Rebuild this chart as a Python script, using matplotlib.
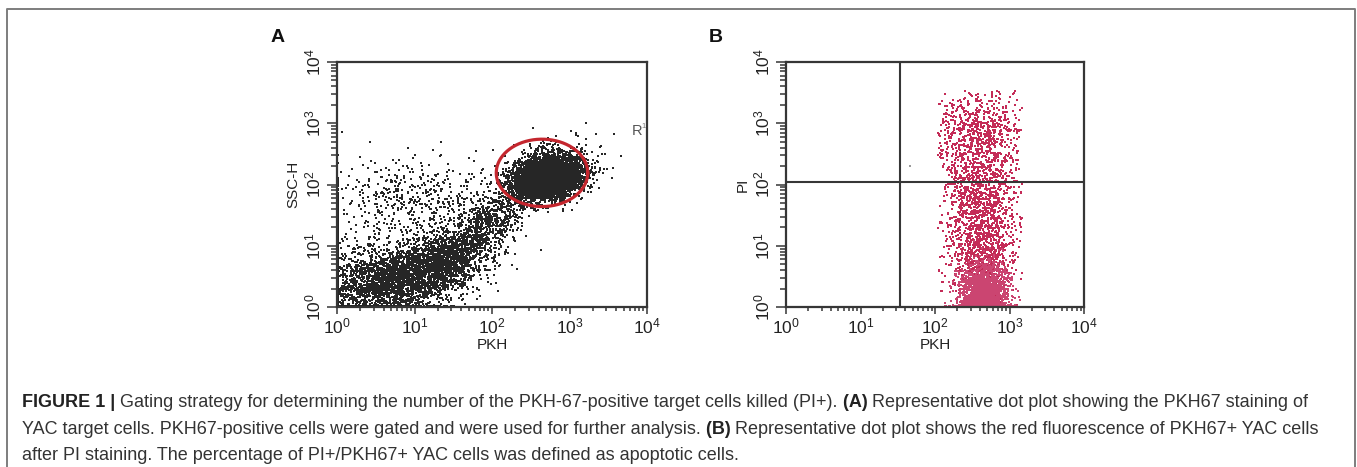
import matplotlib
matplotlib.use("Agg")
import matplotlib.pyplot as plt
from matplotlib.lines import Line2D
from matplotlib.ticker import LogLocator, LogFormatterSciNotation, NullFormatter
import numpy as np

plt.rcParams["font.family"] = ["Liberation Sans", "DejaVu Sans"]
plt.rcParams["mathtext.default"] = "regular"
plt.rcParams["ytick.alignment"] = "center"

W, H = 1357, 467

# populations in log10 decades: centre, spread, correlation, number of events
a_cx = [2.72, 2.70, 0.60, 1.30, 1.90, 1.00, -0.20]
a_cy = [2.10, 2.20, 0.40, 0.70, 1.30, 1.80, 1.00]
a_sx = [0.22, 0.28, 0.40, 0.35, 0.25, 0.55, 0.15]
a_sy = [0.17, 0.24, 0.30, 0.32, 0.30, 0.35, 0.60]
a_rho = [0.20, 0.45, 0.20, 0.35, 0.60, 0.20, 0.00]
a_n = [4500, 700, 2000, 1800, 700, 450, 200]

b_cx = [2.66, 2.62, 2.60, 2.58]
b_cy = [0.10, 0.90, 1.90, 2.90]
b_sx = [0.16, 0.22, 0.27, 0.33]
b_sy = [0.30, 0.40, 0.50, 0.35]
b_rho = [0.0, 0.0, 0.0, 0.0]
b_n = [2600, 900, 1000, 700]
b_colors = ["#cb4571", "#c42b57", "#c42b57", "#c42b57"]
b_gate_x = (2.04, 3.17)   # PKH range carried over from R1
b_top = 3.55

# R1 gate (log10 centre and half-axes)
gate_c = (2.645, 2.19)
gate_r = (0.59, 0.55)

# quadrant markers of panel B
quad_x = 34
quad_y = 110
stray_x, stray_y = [46], [200]

decades = [1, 10, 100, 1000, 10000]

caption = [
    [("FIGURE 1 |", "bold"),
     (" Gating strategy for determining the number of the PKH-67-positive target cells killed (PI+).", "normal"),
     (" (A)", "bold"),
     (" Representative dot plot showing the PKH67 staining of", "normal")],
    [("YAC target cells. PKH67-positive cells were gated and were used for further analysis.", "normal"),
     (" (B)", "bold"),
     (" Representative dot plot shows the red fluorescence of PKH67+ YAC cells", "normal")],
    [("after PI staining. The percentage of PI+/PKH67+ YAC cells was defined as apoptotic cells.", "normal")],
]

rng = np.random.default_rng(7)


def events(cx, cy, sx, sy, rho, n, xr=(0.0, 4.0), ytop=4.0):
    pops = []
    for i in range(len(cx)):
        cov = [[sx[i] ** 2, rho[i] * sx[i] * sy[i]], [rho[i] * sx[i] * sy[i], sy[i] ** 2]]
        p = rng.multivariate_normal([cx[i], cy[i]], cov, size=n[i])
        keep = (p[:, 0] <= xr[1]) & (p[:, 1] <= ytop)
        if xr[0] > 0:
            keep &= p[:, 0] >= xr[0]
        p = p[keep]
        x = np.clip(p[:, 0], 0.012, 3.99)
        y = np.clip(p[:, 1], 0.015, 3.99)
        pops.append((10 ** x, 10 ** y))
    return pops


def style(ax):
    ax.set_xscale("log")
    ax.set_yscale("log")
    ax.set_xlim(1, 1e4)
    ax.set_ylim(1, 1e4)
    for s in ax.spines.values():
        s.set_color("#363636")
        s.set_linewidth(1.6)
    for axis in (ax.xaxis, ax.yaxis):
        axis.set_major_locator(LogLocator(base=10, numticks=10))
        axis.set_minor_locator(LogLocator(base=10, subs=np.arange(2, 10), numticks=10))
        axis.set_major_formatter(LogFormatterSciNotation())
        axis.set_minor_formatter(NullFormatter())
    ax.set_xticks(decades)
    ax.set_yticks(decades)
    ax.tick_params(which="both", direction="out", color="#363636", width=1.1, labelcolor="#222222",
                   labelsize=12.5)
    ax.tick_params(axis="x", which="major", length=5, pad=2)
    ax.tick_params(axis="x", which="minor", length=3)
    ax.tick_params(axis="y", which="major", length=7, pad=3, labelrotation=90)
    ax.tick_params(axis="y", which="minor", length=4)


fig = plt.figure(figsize=(W / 100, H / 100), dpi=100)

# outer frame
frame = dict(color="#7d7d7d", lw=1.4, transform=fig.transFigure)
fig.add_artist(Line2D([7 / W, 7 / W, 1355 / W, 1355 / W], [0, 1 - 9 / H, 1 - 9 / H, 0], **frame))

# panel A
ax1 = fig.add_axes([337 / W, 1 - 307 / H, 310 / W, 245 / H])
style(ax1)
for px, py in events(a_cx, a_cy, a_sx, a_sy, a_rho, a_n):
    ax1.scatter(px, py, s=2.8, marker="s", color="#262626", linewidths=0, rasterized=True)
t = np.linspace(0, 2 * np.pi, 300)
ax1.plot(10 ** (gate_c[0] + gate_r[0] * np.cos(t)), 10 ** (gate_c[1] + gate_r[1] * np.sin(t)),
         color="#c4262e", lw=2.3)
ax1.set_xlabel("PKH", fontsize=11, color="#222222", labelpad=1)
ax1.set_ylabel("SSC-H", fontsize=11, color="#222222", labelpad=2)
fig.text(632 / W, 1 - 135 / H, "R", fontsize=10.5, color="#555555")
fig.text(641 / W, 1 - 128 / H, "1", fontsize=5.5, color="#777777")

# panel B
ax2 = fig.add_axes([786 / W, 1 - 307 / H, 298 / W, 245 / H])
style(ax2)
pops = events(b_cx, b_cy, b_sx, b_sy, b_rho, b_n, xr=b_gate_x, ytop=b_top)
for (px, py), c in zip(pops[::-1], b_colors[::-1]):
    ax2.scatter(px, py, s=2.8, marker="s", color=c, linewidths=0, rasterized=True)
ax2.scatter(stray_x, stray_y, s=3, marker="s", color="#9a9a9a", linewidths=0)
ax2.axvline(quad_x, color="#363636", lw=1.5)
ax2.axhline(quad_y, color="#363636", lw=1.5)
ax2.set_xlabel("PKH", fontsize=11, color="#222222", labelpad=1)
ax2.set_ylabel("PI", fontsize=11, color="#222222", labelpad=2)

fig.text(271 / W, 1 - 42 / H, "A", fontsize=14, fontweight="bold", color="#111111")
fig.text(709 / W, 1 - 42 / H, "B", fontsize=14, fontweight="bold", color="#111111")

# caption with bold run markers
renderer = fig.canvas.get_renderer()
for row, base in zip(caption, [407, 433.5, 460]):
    x = 22
    for txt, weight in row:
        tt = fig.text(x / W, 1 - base / H, txt, fontsize=13, fontweight=weight,
                      color="#222222" if weight == "bold" else "#333333", va="baseline")
        x += tt.get_window_extent(renderer).width

fig.savefig("out.png", dpi=100)
